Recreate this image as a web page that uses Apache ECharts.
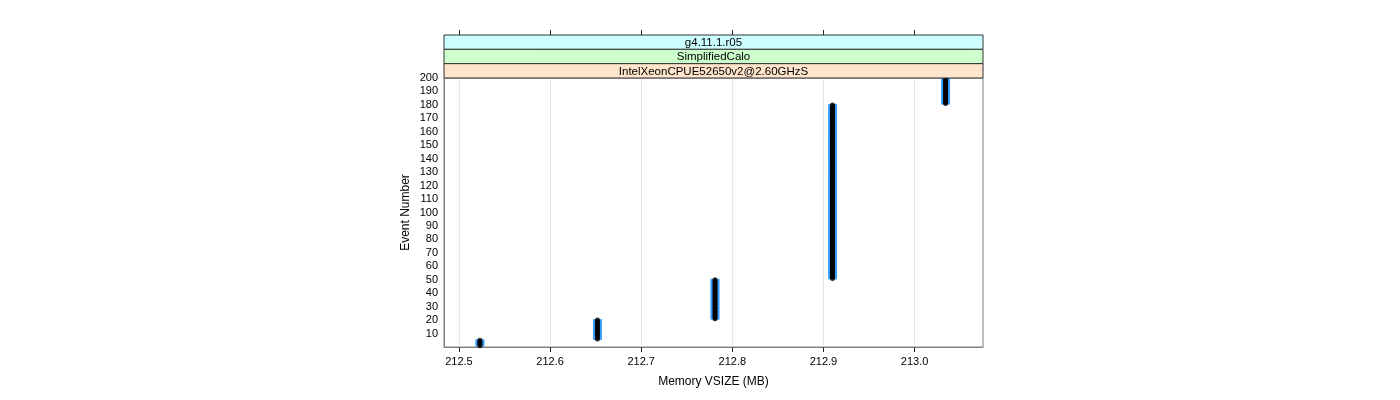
<!DOCTYPE html>
<html>
<head>
<meta charset="utf-8">
<script src="https://cdn.jsdelivr.net/npm/echarts@6/dist/echarts.min.js"></script>
<style>html,body{margin:0;padding:0;background:#fff}#c{width:1400px;height:400px}</style>
</head>
<body>
<div id="c"></div>
<script>
// Data: memory VSIZE (MB) per block of events
var memValues = [212.523, 212.652, 212.781, 212.910, 213.034];
var eventFirst = [1, 6, 21, 51, 181];
var eventLast = [5, 20, 50, 180, 200];
var xTicks = [212.5, 212.6, 212.7, 212.8, 212.9, 213.0];
var stripLabels = ['g4.11.1.r05', 'SimplifiedCalo', 'IntelXeonCPUE52650v2@2.60GHzS'];
var stripColors = ['#ccffff', '#ccffcc', '#ffe5cc'];

(function () {
  var points = [];
  for (var i = 0; i < memValues.length; i++) {
    for (var e = eventFirst[i]; e <= eventLast[i]; e++) points.push([memValues[i], e]);
  }

  var L = 444, R = 983, T = 78, B = 347;
  var stripH = 14.33;
  var XMIN = 212.4836, XMAX = 213.0751;

  var graphics = [];
  for (var s = 0; s < stripLabels.length; s++) {
    var stripTop = T - stripH * (stripLabels.length - s);
    graphics.push({type:'rect', shape:{x:L, y:stripTop, width:R-L, height:stripH},
      style:{fill:stripColors[s], stroke:'#333', lineWidth:1}, z:10});
    graphics.push({type:'text', x:(L+R)/2, y:stripTop+stripH/2+0.5,
      style:{text:stripLabels[s], fill:'#000', font:'11.5px "Liberation Sans", Arial, sans-serif', align:'center', verticalAlign:'middle'}, z:11});
  }

  var chart = echarts.init(document.getElementById('c'));
  chart.setOption({
    animation:false,
    backgroundColor:'#fff',
    grid:{left:L, right:1400-R, top:T, bottom:400-B, show:true, borderColor:'#808080', borderWidth:1, backgroundColor:'transparent'},
    xAxis:[{
      type:'value', min:XMIN, max:XMAX,
      name:'Memory VSIZE (MB)', nameLocation:'middle', nameGap:29,
      nameTextStyle:{color:'#000', fontSize:12, fontFamily:'Liberation Sans'},
      axisLine:{show:true, onZero:false, lineStyle:{color:'#808080'}},
      axisTick:{show:true, length:5, customValues:xTicks, lineStyle:{color:'#222'}},
      axisLabel:{color:'#000', fontSize:11, fontFamily:'Liberation Sans', margin:9,
        customValues: xTicks,
        formatter:function(v){return Number(v).toFixed(1);}},
      splitLine:{show:false}
    },{
      type:'value', min:XMIN, max:XMAX, position:'top', offset:43, z:20,
      axisLine:{show:true, onZero:false, lineStyle:{color:'rgba(0,0,0,0)'}},
      axisLabel:{show:true, customValues:xTicks, color:'rgba(0,0,0,0)'},
      splitLine:{show:false},
      axisTick:{show:true, length:5, customValues:xTicks, lineStyle:{color:'#222', width:1}}
    }],
    yAxis:{
      type:'value', min:0, max:200, interval:10,
      name:'Event Number', nameLocation:'middle', nameGap:32,
      nameTextStyle:{color:'#000', fontSize:12, fontFamily:'Liberation Sans'},
      axisLine:{show:true, onZero:false, lineStyle:{color:'#808080'}},
      axisTick:{show:false},
      axisLabel:{color:'#000', fontSize:11, fontFamily:'Liberation Sans', margin:6,
        formatter:function(v){return v === 0 ? '' : String(v);}},
      splitLine:{show:false}
    },
    series:[{
      type:'lines', coordinateSystem:'cartesian2d', xAxisIndex:1, silent:true, z:1,
      data:xTicks.map(function(v){return {coords:[[v,0],[v,200]]};}),
      lineStyle:{color:'#e6e6e6', width:1, opacity:1}
    },{
      type:'scatter', data:points, symbol:'rect', symbolSize:[9,2],
      itemStyle:{color:'#1e90ff'}, z:2
    },{
      type:'scatter', data:points, symbol:'circle', symbolSize:5,
      itemStyle:{color:'#000'}, z:3
    }],
    graphic:graphics
  });
})();
</script>
</body>
</html>
